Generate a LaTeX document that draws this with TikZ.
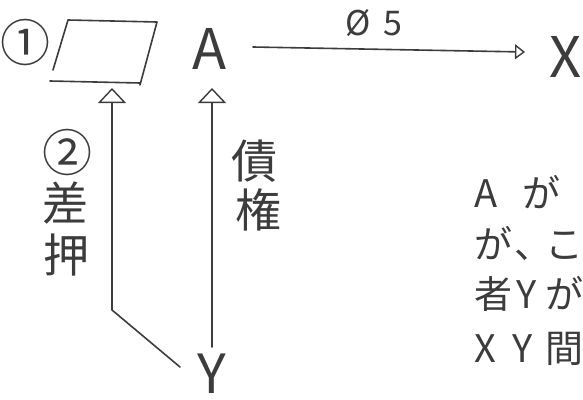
\documentclass[tikz,border=0pt]{standalone}
\usepackage{fontspec}
\newfontfamily\jp{Noto Sans CJK JP}
\usetikzlibrary{arrows.meta}
\definecolor{ink}{HTML}{3C3C3C}
\newcommand\cellbox[2]{\makebox[#1][l]{#2}}
\tikzset{
  pen/.style={draw=ink, line width=1.6pt, line cap=round, line join=round},
  up tip/.style={-{Triangle[open, length=15pt, width=28pt, line width=1.4pt]}},
  label jp/.style={text=ink, font=\jp\fontsize{46}{46}\selectfont, inner sep=0pt},
  circled/.style={text=ink, font=\jp\fontsize{50}{50}\selectfont, inner sep=0pt},
  big letter/.style={text=ink, font=\jp\fontsize{56}{56}\selectfont, inner sep=0pt},
  note/.style={text=ink, font=\jp\fontsize{38}{38}\selectfont, inner sep=0pt, anchor=west},
}
\begin{document}
\begin{tikzpicture}[x=1pt, y=-1pt]
  \useasboundingbox (0,0) rectangle (583,399);
  \clip (0,0) rectangle (583,399);
  \fill[white] (0,0) rectangle (583,399);

  % parallelogram standing for the attached claim
  \draw[pen] (53,70) -- (68,20) -- (157,22) -- (140,85);
  \draw[pen] (50,81) -- (140,83);
  \coordinate (boxbot) at (112,88);
  \node[circled] (n1) at (25,42) {①};

  % parties
  \node[big letter] (A) at (210,49) {A};
  \node[big letter] (X) at (566,57) {X};
  \node[big letter, font=\jp\fontsize{54}{54}\selectfont, anchor=base, text depth=0pt] (Y) at (212,393) {Y};

  % A's claim against X
  \draw[pen, -{Triangle[open, length=10pt, width=15pt, line width=1.4pt]}] (253,47) coordinate (aout) -- (525,52) coordinate (xin);
  \node[text=ink, font=\jp\fontsize{34}{34}\selectfont, inner sep=0pt] (amt) at (374,23) {Ø\hspace{12pt}5};

  % Y's claim against A
  \coordinate (ybase) at (212,347);
  \draw[pen, up tip] (ybase) -- (212,88) coordinate (aunder);
  \node[label jp] (k1) at (254,161) {債};
  \node[label jp] (k2) at (258,210) {権};

  % attachment by Y
  \coordinate (yleft) at (180,367);
  \coordinate (bend) at (112,310);
  \draw[pen, up tip] (yleft) -- (bend) -- (boxbot);
  \node[circled] (n2) at (67,152) {②};
  \node[label jp] (s1) at (65,203) {差};
  \node[label jp] (s2) at (66,255) {押};

  % running text at the right edge
  \node[note] (t1) at (474,192) {\cellbox{48pt}{A}が};
  \node[note] (t2) at (474,243) {\cellbox{40pt}{が}\cellbox{31pt}{、}こ};
  \node[note] (t3) at (474,294) {\cellbox{42pt}{者}\cellbox{29pt}{Y}が};
  \node[note] (t4) at (474,349) {\cellbox{38pt}{X}\cellbox{33pt}{Y}間};
\end{tikzpicture}
\end{document}
